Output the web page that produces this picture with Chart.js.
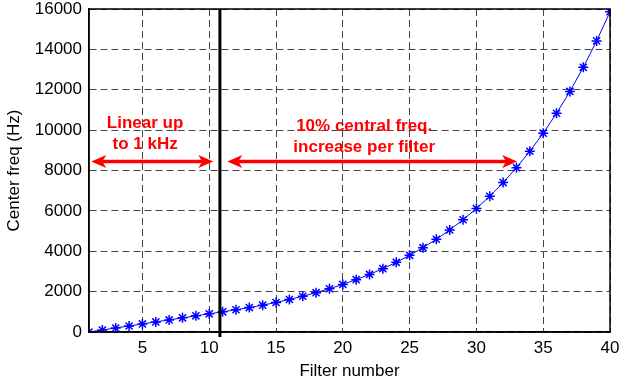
<!DOCTYPE html>
<html>
<head>
<meta charset="utf-8">
<script src="https://cdn.jsdelivr.net/npm/chart.js@4"></script>
<style>
  html, body { margin: 0; padding: 0; background: #fff; }
  #wrap { width: 621px; height: 389px; }
</style>
</head>
<body>
<div id="wrap"><canvas id="freqChart" width="621" height="389"></canvas></div>
<script>
// Data
const filterNumbers = [1, 2, 3, 4, 5, 6, 7, 8, 9, 10,
  11, 12, 13, 14, 15, 16, 17, 18, 19, 20,
  21, 22, 23, 24, 25, 26, 27, 28, 29, 30,
  31, 32, 33, 34, 35, 36, 37, 38, 39, 40];
const centerFreqs = [0, 100, 200, 300, 400, 500, 600, 700, 800, 900,
  1000, 1100, 1210, 1331, 1464, 1611, 1772, 1949, 2144, 2358,
  2594, 2853, 3138, 3452, 3797, 4177, 4595, 5054, 5560, 6116,
  6727, 7400, 8140, 8954, 9850, 10835, 11918, 13110, 14421, 15863];
const xTicks = [5, 10, 15, 20, 25, 30, 35, 40];
const yMax = 16000;
const yStep = 2000;

const FONT = "'Liberation Sans', Arial, Helvetica, sans-serif";

// Draw a double headed arrow between two pixel x positions
function drawArrow(ctx, x1, x2, y) {
  const len = 15, half = 6.5, notch = 4;
  ctx.save();
  ctx.strokeStyle = "#ff0000";
  ctx.fillStyle = "#ff0000";
  ctx.lineWidth = 3.5;
  ctx.beginPath();
  ctx.moveTo(x1 + len - notch, y);
  ctx.lineTo(x2 - len + notch, y);
  ctx.stroke();
  [[x1, 1], [x2, -1]].forEach(([tip, dir]) => {
    ctx.beginPath();
    ctx.moveTo(tip, y);
    ctx.lineTo(tip + dir * len, y - half);
    ctx.lineTo(tip + dir * (len - notch), y);
    ctx.lineTo(tip + dir * len, y + half);
    ctx.closePath();
    ctx.fill();
  });
  ctx.restore();
}

// Notes, divider line and box frame
const notesPlugin = {
  id: "notes",
  afterDraw(chart, args, opts) {
    const { ctx, chartArea } = chart;
    const xs = chart.scales.x, ys = chart.scales.y;

    // box round the plot
    ctx.save();
    ctx.strokeStyle = "#000";
    ctx.lineWidth = 1.5;
    ctx.strokeRect(chartArea.left, chartArea.top,
      chartArea.right - chartArea.left, chartArea.bottom - chartArea.top);

    // thick divider
    const dx = xs.getPixelForValue(opts.divider);
    ctx.lineWidth = 3;
    ctx.beginPath();
    ctx.moveTo(dx, chartArea.top);
    ctx.lineTo(dx, chartArea.bottom + 5);
    ctx.stroke();
    ctx.restore();

    opts.arrows.forEach(a => {
      drawArrow(ctx, xs.getPixelForValue(a.from), xs.getPixelForValue(a.to), ys.getPixelForValue(a.y));
    });

    ctx.save();
    ctx.fillStyle = "#ff0000";
    ctx.font = "bold 17px " + FONT;
    ctx.textAlign = "center";
    ctx.textBaseline = "middle";
    opts.labels.forEach(l => {
      const px = xs.getPixelForValue(l.x);
      const py = ys.getPixelForValue(l.y);
      l.lines.forEach((t, i) => ctx.fillText(t, px, py + i * 21));
    });
    ctx.restore();
  }
};

const ctx = document.getElementById("freqChart").getContext("2d");
const freqChart = new Chart(ctx, {
  type: "line",
  data: {
    datasets: [{
      data: filterNumbers.map((n, i) => ({ x: n, y: centerFreqs[i] })),
      borderColor: "#0000ff",
      borderWidth: 1,
      pointStyle: "star",
      pointRadius: 5,
      pointBorderColor: "#0000ff",
      pointBorderWidth: 1.5,
      pointBackgroundColor: "#0000ff",
      tension: 0
    }]
  },
  options: {
    responsive: false,
    maintainAspectRatio: false,
    animation: false,
    layout: { padding: { top: 9, right: 11, left: 0, bottom: 0 } },
    plugins: {
      legend: { display: false },
      tooltip: { enabled: false },
      notes: {
        divider: 10.8,
        arrows: [
          { from: 1.17, to: 10.3, y: 8450 },
          { from: 11.35, to: 33.05, y: 8450 }
        ],
        labels: [
          { x: 5.2, y: 10350, lines: ["Linear up", "to 1 kHz"] },
          { x: 21.6, y: 10200, lines: ["10% central freq.", "increase per filter"] }
        ]
      }
    },
    scales: {
      x: {
        type: "linear",
        min: 1,
        max: 40,
        afterBuildTicks: s => { s.ticks = xTicks.map(v => ({ value: v })); },
        afterFit: s => { s.height = 57; s.paddingLeft = 0; s.paddingRight = 0; },
        grid: { color: "#444", lineWidth: 1, drawTicks: false },
        border: { color: "#000", width: 1.5, dash: [7, 4] },
        ticks: { color: "#000", font: { family: FONT, size: 17 }, padding: 6, maxRotation: 0 },
        title: { display: true, text: "Filter number", color: "#000",
          font: { family: FONT, size: 17 }, padding: { top: 0, bottom: 7 } }
      },
      y: {
        min: 0,
        max: yMax,
        afterFit: s => { s.width = 89; s.paddingTop = 0; s.paddingBottom = 0; },
        grid: { color: "#444", lineWidth: 1, drawTicks: false },
        border: { color: "#000", width: 1.5, dash: [7, 4] },
        ticks: { stepSize: yStep, color: "#000", font: { family: FONT, size: 17 },
          padding: 7, callback: v => String(v) },
        title: { display: true, text: "Center freq (Hz)", color: "#000",
          font: { family: FONT, size: 17 }, padding: { top: 4, bottom: 0 } }
      }
    }
  },
  plugins: [notesPlugin]
});
</script>
</body>
</html>
